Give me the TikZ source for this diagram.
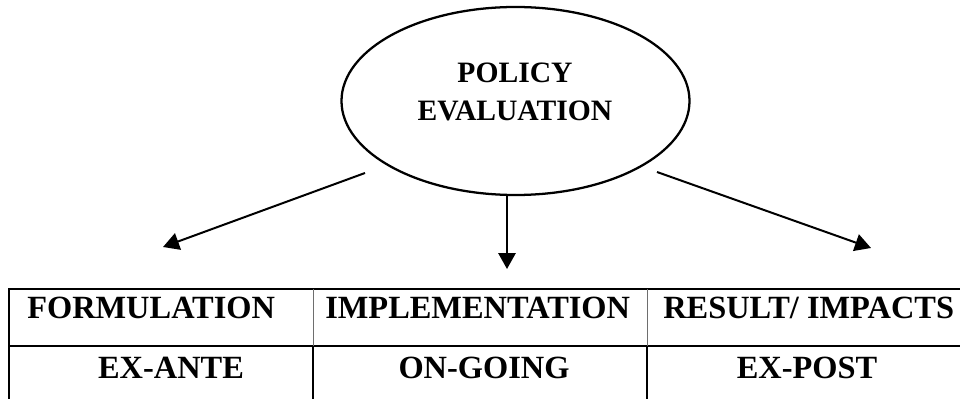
\documentclass[tikz,border=0pt]{standalone}
\usepackage{fontspec}
\setmainfont{Liberation Serif}
\usetikzlibrary{arrows.meta,shapes.geometric}
\newcommand{\cellfont}{\bfseries\fontsize{24.3}{28}\selectfont}
\newcommand{\evalfont}{\bfseries\fontsize{22.2}{28.5}\selectfont}
\begin{document}
\begin{tikzpicture}[x=0.75pt,y=0.75pt,yscale=-1,xscale=1,
  arr/.style={line width=1.5, -{Triangle[length=12pt,width=13pt]}},
  cell/.style={inner sep=0pt, font=\cellfont}]
\useasboundingbox (0,0) rectangle (960,399);

%Shape: Ellipse [id:policy]
\node [draw, ellipse, line width=1.7, inner sep=0pt, minimum width=261pt, minimum height=141pt] (policy) at (515.5,101) {};
% Text Node
\node [align=center, inner sep=0pt, font=\evalfont] (policytext) at (515,92) {POLICY\\EVALUATION};

%Straight Lines [id:arrows]
\coordinate (fromleft) at (365,173);
\coordinate (toleft) at (163,247);
\coordinate (frommid) at (507,195);
\coordinate (tomid) at (507,269);
\coordinate (fromright) at (657,172);
\coordinate (toright) at (871,248);
\draw [arr] (fromleft) -- (toleft);
\draw [arr] (frommid) -- (tomid);
\draw [arr] (fromright) -- (toright);

%Shape: Table [id:stages]
\draw [line width=1.5] (9,399) -- (9,289) -- (960,289);
\draw [line width=1.5] (9,346) -- (960,346);
\draw [line width=0.6, color={rgb, 255:red, 110; green, 110; blue, 110 }] (313,289) -- (313,346) (647,289) -- (647,346);
\draw [line width=1.5] (313,346) -- (313,399) (647,346) -- (647,399);

% Text Node
\node [cell, anchor=base west] (formulation) at (27,318) {FORMULATION};
% Text Node
\node [cell, anchor=base west] (implementation) at (325,318) {IMPLEMENTATION};
% Text Node
\node [cell, anchor=base west] (result) at (663,318) {RESULT/ IMPACTS};
% Text Node
\node [cell, anchor=base] (exante) at (171,378) {EX-ANTE};
% Text Node
\node [cell, anchor=base] (ongoing) at (484,378) {ON-GOING};
% Text Node
\node [cell, anchor=base] (expost) at (807,378) {EX-POST};

\end{tikzpicture}
\end{document}
